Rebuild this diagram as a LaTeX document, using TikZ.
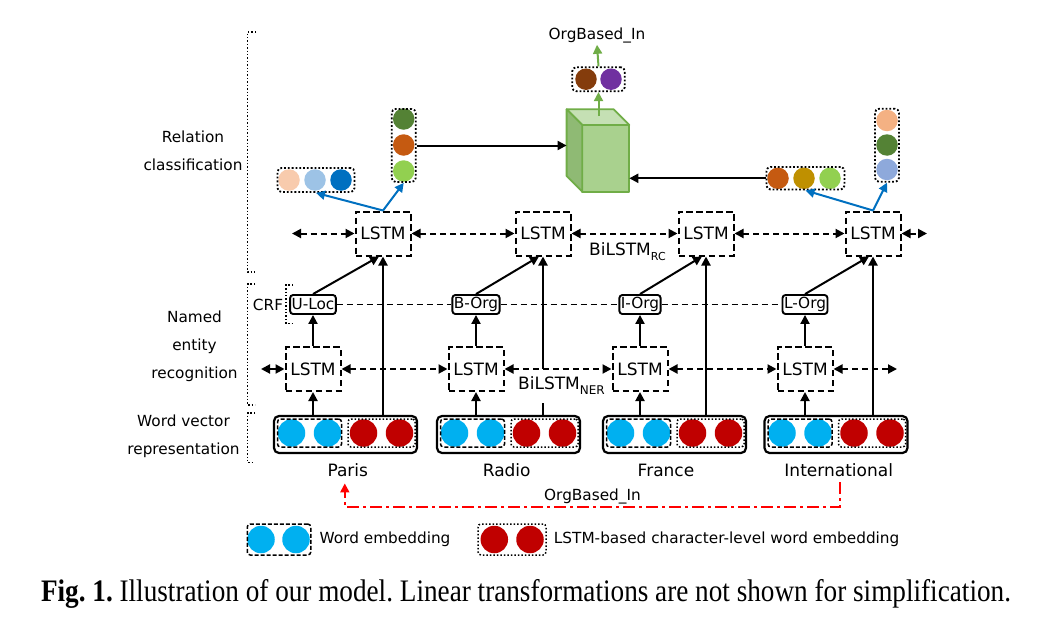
\documentclass[tikz,border=0pt]{standalone}
\usepackage{graphicx}
\usepackage{fontspec}
\setmainfont{DejaVu Sans}
\newfontfamily\capfont{Liberation Serif}
\usetikzlibrary{arrows.meta, positioning}

\definecolor{wordblue}{HTML}{00B0F0}
\definecolor{charred}{HTML}{C00000}
\definecolor{relblue}{HTML}{0070C0}
\definecolor{relred}{HTML}{FF0000}
\definecolor{cubeline}{HTML}{70AD47}
\definecolor{cubefront}{HTML}{A9D18E}
\definecolor{cubetop}{HTML}{C5E0B4}
\definecolor{cubeside}{HTML}{8FBA74}
\definecolor{peach}{HTML}{F8CBAD}
\definecolor{peachdark}{HTML}{F4B183}
\definecolor{skylight}{HTML}{9DC3E6}
\definecolor{royal}{HTML}{0070C0}
\definecolor{leafdark}{HTML}{548235}
\definecolor{rust}{HTML}{C55A11}
\definecolor{leaf}{HTML}{92D050}
\definecolor{ochre}{HTML}{BF9000}
\definecolor{periwinkle}{HTML}{8EA9DB}
\definecolor{outbrown}{HTML}{843C0C}
\definecolor{outviolet}{HTML}{7030A0}

\begin{document}
\begin{tikzpicture}[x=1pt, y=-1pt, >={Triangle[length=9pt,width=9pt]},
  wordfont/.style={font=\fontsize{17}{17}\selectfont},
  smallfont/.style={font=\fontsize{15.3}{15.3}\selectfont},
  lstm/.style={draw, dash pattern=on 6.5pt off 3.5pt, line width=2pt, minimum width=55pt, minimum height=44pt, inner sep=0pt, wordfont},
  tag/.style={draw, rounded corners=3pt, line width=1.9pt, minimum height=19pt, inner sep=1.5pt, smallfont},
  wordbox/.style={draw, rounded corners=5pt, line width=2.2pt, minimum width=143pt, minimum height=37pt, inner sep=0pt},
  embbox/.style={draw, dash pattern=on 4pt off 2pt, line width=1.5pt, rounded corners=3pt, minimum width=64pt, minimum height=28pt, inner sep=0pt},
  charbox/.style={draw, dotted, line width=1.5pt, rounded corners=3pt, minimum width=67pt, minimum height=28pt, inner sep=0pt},
  vecbox/.style={draw, dotted, line width=1.8pt, rounded corners=4pt, inner sep=0pt},
  dot/.style={circle, inner sep=0pt, minimum size=21.5pt},
  bigdot/.style={circle, inner sep=0pt, minimum size=27.5pt},
  lbl/.style={align=center, font=\fontsize{15.3}{28}\selectfont},
  brk/.style={dotted, line width=1.4pt},
  arr/.style={->, line width=2pt},
  biarr/.style={<->, line width=2pt, dash pattern=on 6pt off 4pt},
  blarr/.style={->, relblue, line width=2pt},
  grarr/.style={->, cubeline, line width=2pt},
  crf/.style={line width=1.5pt, dash pattern=on 6pt off 4pt},
  relarr/.style={->, relred, line width=1.9pt, dash pattern=on 12pt off 4pt on 3pt off 4pt, shorten >=4pt, shorten <=3pt}]
\useasboundingbox (0,0) rectangle (1046,618);

% layer brackets and labels
\draw[brk] (256,32) -| (247.5,272) -- (256,272);
\draw[brk] (255,284) -| (247.5,405) -- (255,405);
\draw[brk] (255,413) -| (247.5,462.5) -- (255,462.5);
\draw[brk] (293,285) -| (286,323.5) -- (293,323.5);
\node[lbl] (lrc) at (193,150.5) {Relation\\classification};
\node[lbl] (lner) at (194.5,346) {Named\\entity\\recognition};
\node[lbl] (lwv) at (183.5,436) {Word vector\\representation};
\node[lbl] (lcrf) at (268,305) {CRF};

% one column per word
\foreach \i/\cx/\nx/\rx/\tx/\word/\tg in {1/345.5/313/383/347.8/Paris/U-Loc, 2/508.5/476/543/506.7/Radio/B-Org, 3/674.5/640/706/666/France/I-Org, 4/836/805/873/838.7/International/L-Org}{
  \foreach \dx/\c [count=\k] in {-54/wordblue, -18/wordblue, 18/charred, 54/charred}
    \node[bigdot, fill=\c] (d\i\k) at (\cx+\dx,433) {};
  \node[embbox] (e\i) at (\cx-36,433) {};
  \node[charbox] (c\i) at (\cx+36,433) {};
  \node[wordbox] (w\i) at (\cx,434.5) {};
  \node[anchor=base, inner sep=3pt, wordfont] (x\i) at (\tx,476) {\word};
  \node[lstm] (n\i) at (\nx,369) {LSTM};
  \node[tag] (t\i) at (\nx,304.5) {\tg};
  \node[lstm] (r\i) at (\rx,233.5) {LSTM};
  \draw[arr] (w\i.north -| n\i) -- (n\i);
  \draw[arr] (n\i) -- (t\i);
  \draw[arr] (t\i.north) -- ([xshift=-4pt]r\i.south);
  \draw[arr] (w\i.north -| r\i) -- (r\i);
}
\foreach \a/\b in {t1/t2, t2/t3, t3/t4}
  \draw[crf] (\a) -- (\b);

% bidirectional layers
\node[anchor=base west, fill=white, inner xsep=2pt, inner ysep=8pt, wordfont] (bner) at (516,389.5) {BiLSTM\raisebox{-5pt}{\fontsize{12}{12}\selectfont NER}};
\node[anchor=base west, inner sep=1pt, wordfont] (brc) at (588,255) {BiLSTM\raisebox{-5pt}{\fontsize{11}{11}\selectfont RC}};
\coordinate (nl) at (261,369);
\coordinate (nr) at (897,369);
\coordinate (rl) at (292,233.5);
\coordinate (rr) at (927,233.5);
\foreach \a/\b in {nl/n1, n1/n2, n2/n3, n3/n4, n4/nr, rl/r1, r1/r2, r2/r3, r3/r4, r4/rr}
  \draw[biarr] (\a) -- (\b);

% entity vectors
\foreach \c [count=\k] in {peach, skylight, royal}
  \node[dot, fill=\c] (lh\k) at (263+26*\k,180) {};
\node[vecbox, minimum width=77pt, minimum height=24pt] (lh) at (316,180) {};
\foreach \c [count=\k] in {leafdark, rust, leaf}
  \node[dot, fill=\c] (lv\k) at (403.7,93+26*\k) {};
\node[vecbox, minimum width=24pt, minimum height=73pt] (lv) at (403.7,145.5) {};
\foreach \c [count=\k] in {rust, ochre, leaf}
  \node[dot, fill=\c] (rh\k) at (752+26*\k,178.3) {};
\node[vecbox, minimum width=78pt, minimum height=22.5pt] (rh) at (805.5,178.3) {};
\foreach \c [count=\k] in {peachdark, leafdark, periwinkle}
  \node[dot, fill=\c] (rv\k) at (887,96+24.5*\k) {};
\node[vecbox, minimum width=24pt, minimum height=73pt] (rv) at (887,145.3) {};
\foreach \c [count=\k] in {outbrown, outviolet}
  \node[dot, fill=\c] (o\k) at (561+25*\k,79.2) {};
\node[vecbox, minimum width=52.5pt, minimum height=24pt] (out) at (598.5,79.2) {};
\node[anchor=base, inner sep=1pt, smallfont] (rel) at (597,40) {OrgBased\_In};

% relation classifier
\filldraw[cubeline, fill=cubefront, line width=1.8pt, line join=round] (582.3,125) rectangle (629.3,191.7);
\filldraw[cubeline, fill=cubetop, line width=1.8pt, line join=round] (582.3,125) -- (566.6,109.3) -- (613.6,109.3) -- (629.3,125) -- cycle;
\filldraw[cubeline, fill=cubeside, line width=1.8pt, line join=round] (582.3,125) -- (566.6,109.3) -- (566.6,176) -- (582.3,191.7) -- cycle;
\coordinate (cubeL) at (566.6,145.7);
\coordinate (cubeR) at (629.3,178);
\coordinate (cubeT) at (598.5,116);

\draw[blarr] (r1.north) -- (lh.south);
\draw[blarr] (r1.north) -- (lv.south);
\draw[blarr] (r4.north) -- (rh.south);
\draw[blarr] (r4.north) -- (rv.south);
\draw[arr] (lv.east) -- (lv.east -| cubeL);
\draw[arr] (rh.west) -- (rh.west -| cubeR);
\draw[grarr] (cubeT) -- (out.south);
\draw[grarr] (out.north) -- (rel.south);

% gold relation
\draw[relarr] ([xshift=1.5pt]x4.south) -- ++(0,27.5) -| node[pos=0.25, above, inner sep=2pt, smallfont, text=black] (rlab) {OrgBased\_In} ([xshift=-3pt]x1.south);

% legend
\foreach \x [count=\k] in {261,296}
  \node[bigdot, fill=wordblue] (lb\k) at (\x,539.5) {};
\node[embbox, minimum width=63.5pt, minimum height=31pt] (lgw) at (279,539.5) {};
\node[right=7pt of lgw, inner sep=1pt, smallfont] (lgwt) {Word embedding};
\foreach \x [count=\k] in {494.3,530}
  \node[bigdot, fill=charred] (lr\k) at (\x,539.5) {};
\node[charbox, minimum width=68pt, minimum height=31pt] (lgc) at (512,539.5) {};
\node[right=6pt of lgc, inner sep=1pt, smallfont] (lgct) {LSTM-based character-level word embedding};

\node[anchor=base, inner sep=0pt, font=\capfont\fontsize{27.2}{27.2}\selectfont\frenchspacing] (cap) at (526,601) {\scalebox{1}[1.15]{\textbf{Fig. 1.} Illustration of our model. Linear transformations are not shown for simplification.}};
\end{tikzpicture}
\end{document}
